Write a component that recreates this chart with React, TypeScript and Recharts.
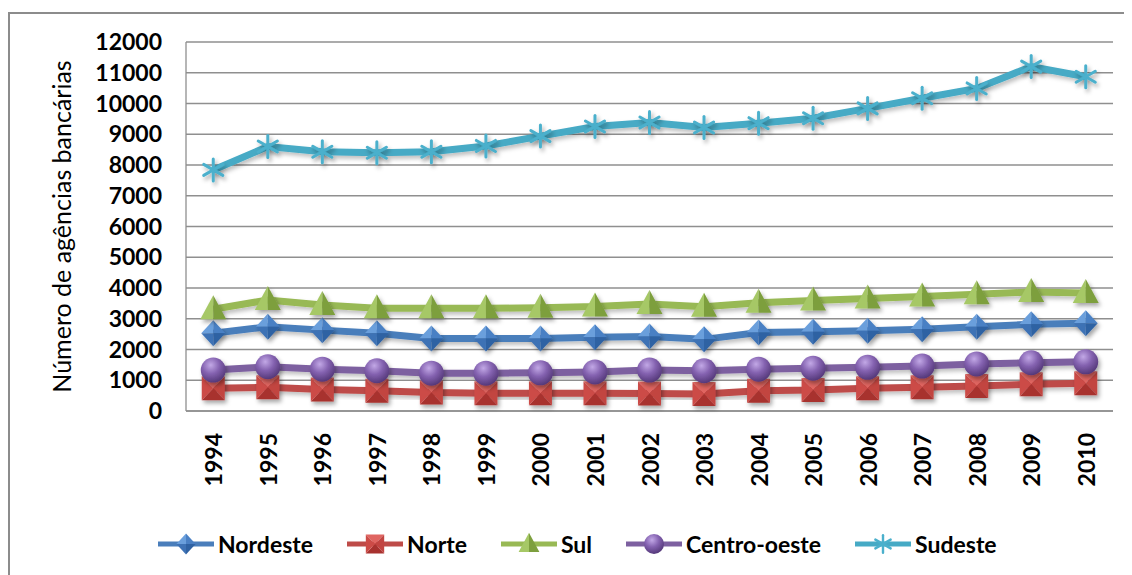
import React from "react";
import { LineChart, Line, XAxis, YAxis, CartesianGrid } from "recharts";

const years = ["1994", "1995", "1996", "1997", "1998", "1999", "2000", "2001", "2002", "2003", "2004", "2005", "2006", "2007", "2008", "2009", "2010"];
const nordeste = [2530, 2740, 2630, 2530, 2360, 2360, 2360, 2400, 2420, 2330, 2550, 2580, 2610, 2660, 2740, 2820, 2850];
const norte = [740, 770, 700, 660, 600, 580, 580, 580, 570, 550, 660, 680, 740, 770, 810, 870, 900];
const sul = [3310, 3610, 3450, 3340, 3340, 3340, 3360, 3400, 3480, 3390, 3520, 3590, 3660, 3720, 3800, 3870, 3840];
const centroOeste = [1330, 1440, 1360, 1310, 1230, 1230, 1240, 1270, 1330, 1310, 1360, 1390, 1420, 1460, 1530, 1570, 1600];
const sudeste = [7840, 8600, 8430, 8400, 8430, 8620, 8940, 9250, 9380, 9220, 9360, 9520, 9840, 10170, 10490, 11200, 10870];
const yTicks = [0, 1000, 2000, 3000, 4000, 5000, 6000, 7000, 8000, 9000, 10000, 11000, 12000];

const data = years.map((year, i) => ({
  year,
  Nordeste: nordeste[i],
  Norte: norte[i],
  Sul: sul[i],
  "Centro-oeste": centroOeste[i],
  Sudeste: sudeste[i],
}));

const FONT = "Lato, 'Open Sans', sans-serif";

function Diamond({ cx, cy, s = 1 }: any) {
  const w = 12 * s, h = 13 * s;
  return (
    <g filter={s === 1 ? "url(#mkShadow)" : undefined}>
      <polygon points={`${cx},${cy - h} ${cx - w},${cy} ${cx},${cy}`} fill="#6a9fdc" />
      <polygon points={`${cx},${cy - h} ${cx + w},${cy} ${cx},${cy}`} fill="#4a80c4" />
      <polygon points={`${cx},${cy + h} ${cx + w},${cy} ${cx},${cy}`} fill="#2f62a3" />
      <polygon points={`${cx},${cy + h} ${cx - w},${cy} ${cx},${cy}`} fill="#3e72b5" />
    </g>
  );
}

function Square({ cx, cy, s = 1 }: any) {
  const w = 11.5 * s, h = 12 * s;
  const tl = `${cx - w},${cy - h}`, tr = `${cx + w},${cy - h}`, br = `${cx + w},${cy + h}`, bl = `${cx - w},${cy + h}`, c = `${cx},${cy}`;
  return (
    <g filter={s === 1 ? "url(#mkShadow)" : undefined}>
      <polygon points={`${tl} ${tr} ${c}`} fill="#e06561" />
      <polygon points={`${tr} ${br} ${c}`} fill="#c24441" />
      <polygon points={`${br} ${bl} ${c}`} fill="#a8322f" />
      <polygon points={`${bl} ${tl} ${c}`} fill="#cc4b47" />
    </g>
  );
}

function Triangle({ cx, cy, s = 1 }: any) {
  const w = 13 * s, up = 14 * s, dn = 10 * s;
  return (
    <g filter={s === 1 ? "url(#mkShadow)" : undefined}>
      <polygon points={`${cx},${cy - up} ${cx - w},${cy + dn} ${cx},${cy + dn}`} fill="#a6c866" />
      <polygon points={`${cx},${cy - up} ${cx + w},${cy + dn} ${cx},${cy + dn}`} fill="#7d9f3e" />
    </g>
  );
}

function Ball({ cx, cy, s = 1 }: any) {
  return (
    <circle cx={cx} cy={cy} r={12.5 * s} fill="url(#gBall)" filter={s === 1 ? "url(#mkShadow)" : undefined} />
  );
}

function Star({ cx, cy, s = 1 }: any) {
  const r = 11 * s, dx = r * 0.87, dy = r * 0.5;
  return (
    <g stroke="#4bb0cc" strokeWidth={3 * s} strokeLinecap="round" filter={s === 1 ? "url(#mkShadow)" : undefined}>
      <line x1={cx} y1={cy - r} x2={cx} y2={cy + r} />
      <line x1={cx - dx} y1={cy - dy} x2={cx + dx} y2={cy + dy} />
      <line x1={cx - dx} y1={cy + dy} x2={cx + dx} y2={cy - dy} />
    </g>
  );
}

const series = [
  { key: "Nordeste", color: "#4a7ebb", Marker: Diamond },
  { key: "Norte", color: "#be4b48", Marker: Square },
  { key: "Sul", color: "#98b954", Marker: Triangle },
  { key: "Centro-oeste", color: "#7d60a0", Marker: Ball },
  { key: "Sudeste", color: "#46aac5", Marker: Star },
];

function XTick({ x, y, payload }: any) {
  const ty = y + 14;
  return (
    <text
      x={x}
      y={ty}
      transform={`rotate(-90 ${x} ${ty})`}
      textAnchor="end"
      dominantBaseline="central"
      fontFamily={FONT}
      fontWeight={700}
      fontSize={23}
      fill="#000"
    >
      {payload.value}
    </text>
  );
}

export default function App() {
  return (
    <div style={{ position: "relative", width: 1124, height: 567 }}>
      <style>{`.recharts-line-curve { filter: url(#lineShadow); }`}</style>
      <svg width="0" height="0" style={{ position: "absolute" }}>
        <defs>
          <filter id="mkShadow" x="-60%" y="-60%" width="220%" height="220%">
            <feDropShadow dx="2" dy="3" stdDeviation="2" floodColor="#000" floodOpacity="0.35" />
          </filter>
          <filter id="lineShadow" x="-10%" y="-50%" width="120%" height="200%">
            <feDropShadow dx="2" dy="3" stdDeviation="2" floodColor="#000" floodOpacity="0.25" />
          </filter>
          <radialGradient id="gBall" cx="40%" cy="30%" r="70%">
            <stop offset="0%" stopColor="#c2a8e6" />
            <stop offset="50%" stopColor="#8462b0" />
            <stop offset="100%" stopColor="#55397a" />
          </radialGradient>
        </defs>
      </svg>
      <div
        style={{
          position: "absolute",
          top: 4,
          left: 0,
          width: 1124,
          height: 563,
          borderTop: "2px solid #8c8c8c",
          borderLeft: "2px solid #8c8c8c",
          boxSizing: "border-box",
        }}
      />
      <div style={{ position: "absolute", top: 0, left: 0 }}>
        <LineChart width={1124} height={567} data={data} margin={{ top: 34, right: 19, bottom: 0, left: 0 }}>
          <CartesianGrid vertical={false} stroke="#8f8f8f" strokeWidth={1.3} />
          <XAxis
            dataKey="year"
            scale="band"
            height={164}
            interval={0}
            tickLine={false}
            axisLine={{ stroke: "#8f8f8f", strokeWidth: 1.3 }}
            tick={<XTick />}
          />
          <YAxis
            width={178}
            domain={[0, 12000]}
            ticks={yTicks}
            interval={0}
            tickLine={false}
            tickMargin={18}
            axisLine={{ stroke: "#8f8f8f", strokeWidth: 1.3 }}
            tick={{ fontFamily: FONT, fontWeight: 700, fontSize: 23, fill: "#000" }}
            label={{
              value: "Número de agências bancárias",
              angle: -90,
              position: "center",
              dx: -35,
              style: { fontFamily: FONT, fontSize: 25, fill: "#000" },
            }}
          />
          {series.map(({ key, color, Marker }) => (
            <Line
              key={key}
              type="linear"
              dataKey={key}
              stroke={color}
              strokeWidth={7}
              isAnimationActive={false}
              activeDot={false}
              dot={(p: any) => <Marker key={`${key}-${p.index}`} cx={p.cx} cy={p.cy} />}
            />
          ))}
        </LineChart>
      </div>
      <div
        style={{
          position: "absolute",
          top: 521,
          left: 150,
          height: 30,
          display: "flex",
          alignItems: "center",
          gap: 34,
          fontFamily: FONT,
          fontWeight: 700,
          fontSize: 23,
          color: "#000",
        }}
      >
        {series.map(({ key, color, Marker }) => (
          <div key={key} style={{ display: "flex", alignItems: "center" }}>
            <svg width={56} height={30}>
              <line x1={0} y1={15} x2={56} y2={15} stroke={color} strokeWidth={5} />
              <Marker cx={28} cy={15} s={0.8} />
            </svg>
            <span style={{ marginLeft: 4, lineHeight: "30px" }}>{key}</span>
          </div>
        ))}
      </div>
    </div>
  );
}
